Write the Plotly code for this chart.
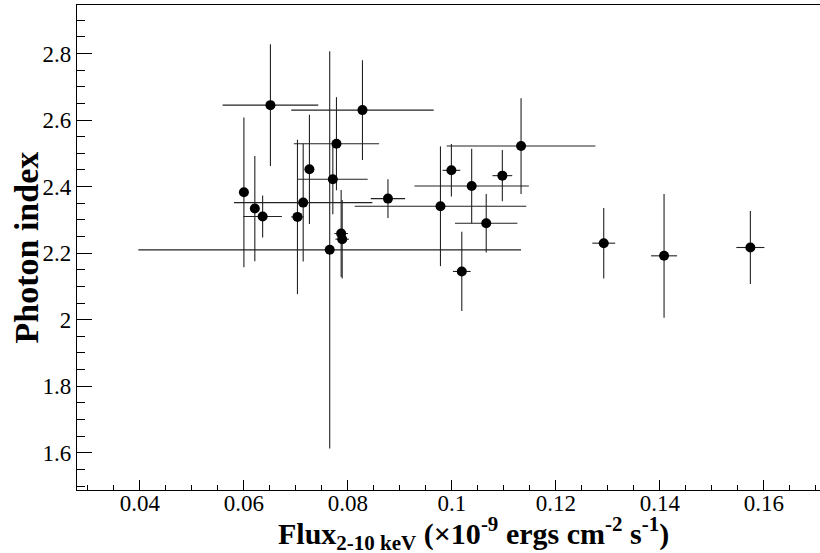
import plotly.graph_objects as go

# Flux (x1e-9 erg cm^-2 s^-1), 2-10 keV
flux = [0.0600, 0.0621, 0.0636, 0.0651, 0.0703, 0.0714, 0.0726, 0.0765,
        0.0771, 0.0778, 0.0787, 0.0789, 0.0828, 0.0877, 0.0978, 0.0999,
        0.1019, 0.1038, 0.1066, 0.1097, 0.1133, 0.1292, 0.1408, 0.1574]
flux_err = [0.0000, 0.0000, 0.0037, 0.0092, 0.0012, 0.0133, 0.0005, 0.0368,
            0.0067, 0.0082, 0.0013, 0.0013, 0.0137, 0.0033, 0.0165, 0.0017,
            0.0017, 0.0110, 0.0060, 0.0019, 0.0143, 0.0022, 0.0025, 0.0027]
# Photon index
gamma = [2.383, 2.334, 2.310, 2.645, 2.309, 2.352, 2.452, 2.210,
         2.422, 2.529, 2.259, 2.242, 2.630, 2.364, 2.341, 2.449,
         2.145, 2.402, 2.290, 2.433, 2.522, 2.230, 2.192, 2.217]
gamma_err = [0.225, 0.158, 0.063, 0.183, 0.232, 0.177, 0.164, 0.597,
             0.105, 0.140, 0.131, 0.118, 0.150, 0.058, 0.180, 0.079,
             0.119, 0.112, 0.088, 0.077, 0.144, 0.106, 0.186, 0.110]

x_ticks = [0.04, 0.06, 0.08, 0.1, 0.12, 0.14, 0.16]
x_ticklabels = ["0.04", "0.06", "0.08", "0.1", "0.12", "0.14", "0.16"]
y_ticks = [1.6, 1.8, 2.0, 2.2, 2.4, 2.6, 2.8]
y_ticklabels = ["1.6", "1.8", "2", "2.2", "2.4", "2.6", "2.8"]

x_title = "<b>Flux<sub>2-10 keV</sub> (×10<sup>-9</sup> ergs cm<sup>-2</sup> s<sup>-1</sup>)</b>"
y_title = "<b>Photon index</b>"

FONT = "Liberation Serif"

fig = go.Figure()
fig.add_trace(go.Scatter(
    x=flux, y=gamma, mode="markers",
    marker=dict(color="black", size=10, symbol="circle"),
    error_x=dict(type="data", array=flux_err, color="#222222", thickness=1.1, width=0),
    error_y=dict(type="data", array=gamma_err, color="#222222", thickness=1.1, width=0),
    showlegend=False,
))

fig.update_layout(
    width=820, height=553, autosize=False,
    margin=dict(l=77, r=0, t=5, b=63),
    paper_bgcolor="white", plot_bgcolor="white",
    font=dict(family=FONT, color="black", size=23),
)
fig.update_xaxes(
    range=[0.0279, 0.17079], showgrid=False, zeroline=False,
    showline=True, linecolor="black", linewidth=1.2, mirror=True,
    tickmode="array", tickvals=x_ticks, ticktext=x_ticklabels,
    ticks="inside", ticklen=10, tickwidth=1, tickcolor="black",
    ticklabelstandoff=-8,
    minor=dict(ticks="inside", ticklen=5, dtick=0.005, tick0=0.0, tickcolor="black", showgrid=False),
    tickfont=dict(family=FONT, size=23, color="black"),
)
fig.update_yaxes(
    range=[1.488, 2.946], showgrid=False, zeroline=False,
    showline=True, linecolor="black", linewidth=1.2, mirror=False,
    tickmode="array", tickvals=y_ticks, ticktext=y_ticklabels,
    ticks="inside", ticklen=15, tickwidth=1, tickcolor="black",
    minor=dict(ticks="inside", ticklen=7.5, dtick=0.05, tick0=0.0, tickcolor="black", showgrid=False),
    tickfont=dict(family=FONT, size=23, color="black"),
)

fig.add_annotation(text=x_title, xref="paper", yref="paper",
                   x=0.533, y=-0.0887, xanchor="center", yanchor="middle",
                   showarrow=False, font=dict(family=FONT, size=30, color="black"))
fig.add_annotation(text=y_title, xref="paper", yref="paper",
                   x=-0.0673, y=0.5, xanchor="center", yanchor="middle", textangle=-90,
                   showarrow=False, font=dict(family=FONT, size=34, color="black"))

fig.write_html("out.html")
